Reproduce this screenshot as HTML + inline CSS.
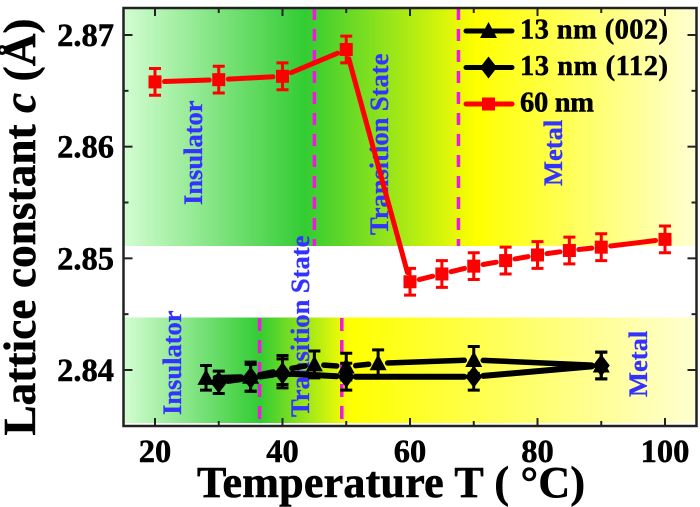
<!DOCTYPE html>
<html lang="en">
<head>
<meta charset="utf-8">
<title>Lattice constant vs temperature</title>
<style>
html,body{margin:0;padding:0;background:#fff;width:700px;height:507px;overflow:hidden}
svg{display:block;filter:blur(0.35px)}
text{font-family:"Liberation Serif",serif;font-weight:bold}
</style>
</head>
<body>
<svg id="chart" xmlns="http://www.w3.org/2000/svg" width="700" height="507" viewBox="0 0 700 507">
  <defs>
    <linearGradient id="gradTop" gradientUnits="userSpaceOnUse" x1="124" y1="0" x2="695" y2="0">
      <stop offset="0" stop-color="#d2fdd2"/>
      <stop offset="0.317" stop-color="#33cc33"/>
      <stop offset="0.618" stop-color="#ffff00"/>
      <stop offset="1" stop-color="#ffffd0"/>
    </linearGradient>
    <linearGradient id="gradBottom" gradientUnits="userSpaceOnUse" x1="124" y1="0" x2="695" y2="0">
      <stop offset="0" stop-color="#d2fdd2"/>
      <stop offset="0.238" stop-color="#33cc33"/>
      <stop offset="0.396" stop-color="#ffff00"/>
      <stop offset="1" stop-color="#ffffd0"/>
    </linearGradient>
  </defs>
  <rect x="124" y="9" width="571" height="237" fill="url(#gradTop)"/>
  <rect x="124" y="317.5" width="571" height="105.5" fill="url(#gradBottom)"/>
  <g id="boundaries"></g>
  <g fill="#3333ff" stroke="#3333ff" stroke-width="0.3" font-size="26.5">
    <text transform="translate(202,205) rotate(-90)">Insulator</text>
    <text transform="translate(388,235) rotate(-90)">Transition State</text>
    <text transform="translate(562,186) rotate(-90)">Metal</text>
    <text transform="translate(181,415) rotate(-90)">Insulator</text>
    <text transform="translate(309,417) rotate(-90)">Transition State</text>
    <text transform="translate(647,397) rotate(-90)">Metal</text>
  </g>
  <g id="series"></g>
  <rect x="123.5" y="8" width="573" height="418" fill="none" stroke="#222" stroke-width="2.5"/>
  <g id="axes"></g>
  <text x="391" y="497" font-size="44" text-anchor="middle" textLength="388" stroke="#000" stroke-width="0.6">Temperature T ( °C)</text>
  <text transform="translate(35,227) rotate(-90)" font-size="45" text-anchor="middle" textLength="417" stroke="#000" stroke-width="0.6">Lattice constant <tspan font-style="italic">c</tspan> (Å)</text>
  <g id="legend"></g>
</svg>
<script>
const temps60 = [20, 30, 40, 50, 60, 65, 70, 75, 80, 85, 90, 100];
const values60 = [2.8658, 2.8660, 2.8663, 2.8687, 2.8479, 2.8486, 2.8493, 2.8498, 2.8503, 2.8507, 2.8510, 2.8517];
const errors60 = [0.0012, 0.0012, 0.0012, 0.0012, 0.0012, 0.0012, 0.0012, 0.0012, 0.0012, 0.0012, 0.0012, 0.0012];
const temps002 = [28, 35, 40, 45, 50, 55, 70, 90];
const values002 = [2.8393, 2.8394, 2.8400, 2.8405, 2.8403, 2.8406, 2.8409, 2.8404];
const errors002 = [0.0011, 0.0013, 0.0013, 0.0012, 0.0012, 0.0012, 0.0012, 0.0012];
const temps112 = [30, 35, 40, 50, 70, 90];
const values112 = [2.8389, 2.8393, 2.8397, 2.8394, 2.8394, 2.8404];
const errors112 = [0.0010, 0.0012, 0.0013, 0.0012, 0.0012, 0.0012];
const xMajorTicks = [20, 40, 60, 80, 100];
const xMinorTicks = [30, 50, 70, 90];
const yMajorTicks = [2.84, 2.85, 2.86, 2.87];
const yMinorTicks = [2.835, 2.845, 2.855, 2.865];
const upperBoundaries = [45, 67.6];
const lowerBoundaries = [36.4, 49.3];
const legendLabels = ['13 nm (002)', '13 nm (112)', '60 nm'];

const NS = 'http://www.w3.org/2000/svg';
function xScale(t) { return 155 + (t - 20) * 6.375; }
function yScale(v) { return 370 - (v - 2.84) * 11167; }
function make(tag, attrs, parent) {
  const el = document.createElementNS(NS, tag);
  for (const k in attrs) el.setAttribute(k, attrs[k]);
  parent.appendChild(el);
  return el;
}

/* phase boundaries */
const boundaries = document.getElementById('boundaries');
upperBoundaries.forEach(function (t) {
  const el = make('line', { x1: xScale(t), x2: xScale(t), y1: 8, y2: 246, stroke: '#f018e0', 'stroke-width': 3.5, 'stroke-dasharray': '12 9' }, boundaries);
  
  
});
lowerBoundaries.forEach(function (t) {
  const el = make('line', { x1: xScale(t), x2: xScale(t), y1: 318, y2: 423, stroke: '#f018e0', 'stroke-width': 3.5, 'stroke-dasharray': '13 9' }, boundaries);
  
  
});

/* markers */
function marker(kind, cx, cy, color, parent) {
  let el;
  if (kind === 'square') {
    el = make('rect', { x: cx - 6.5, y: cy - 6.5, width: 13, height: 13, fill: color }, parent);
  } else if (kind === 'triangle') {
    el = make('polygon', { points: (cx - 8.5) + ',' + (cy + 7) + ' ' + (cx + 8.5) + ',' + (cy + 7) + ' ' + cx + ',' + (cy - 9), fill: color }, parent);
  } else {
    el = make('polygon', { points: (cx - 8.5) + ',' + cy + ' ' + cx + ',' + (cy - 11) + ' ' + (cx + 8.5) + ',' + cy + ' ' + cx + ',' + (cy + 11), fill: color }, parent);
  }
  return el;
}

/* series */
function drawSeries(name, temps, values, errors, kind, color, lineWidth) {
  const host = document.getElementById('series');
  const g = make('g', {}, host);
  
  
  const gap = 9.5;
  for (let i = 0; i < temps.length - 1; i++) {
    const x1 = xScale(temps[i]), y1 = yScale(values[i]);
    const x2 = xScale(temps[i + 1]), y2 = yScale(values[i + 1]);
    const len = Math.hypot(x2 - x1, y2 - y1);
    if (len <= gap * 2) continue;
    const ux = (x2 - x1) / len, uy = (y2 - y1) / len;
    const seg = make('line', { x1: x1 + ux * gap, y1: y1 + uy * gap, x2: x2 - ux * gap, y2: y2 - uy * gap, stroke: color, 'stroke-width': lineWidth, 'stroke-linecap': 'round' }, g);
    
    
  }
  temps.forEach(function (t, i) {
    const cx = xScale(t), cy = yScale(values[i]);
    const top = yScale(values[i] + errors[i]), bot = yScale(values[i] - errors[i]);
    const bar = make('path', { d: 'M' + cx + ' ' + top + 'V' + bot + 'M' + (cx - 6) + ' ' + top + 'H' + (cx + 6) + 'M' + (cx - 6) + ' ' + bot + 'H' + (cx + 6), stroke: color, 'stroke-width': 3, fill: 'none' }, g);
    
    
    const m = marker(kind, cx, cy, color, g);
    
    
  });
}
drawSeries('film-13nm-002', temps002, values002, errors002, 'triangle', '#000', 5.5);
drawSeries('film-13nm-112', temps112, values112, errors112, 'diamond', '#000', 6);
drawSeries('film-60nm', temps60, values60, errors60, 'square', '#ff0000', 5);

/* axes */
const axes = document.getElementById('axes');
function xTick(t, len) {
  const x = xScale(t);
  const b = make('line', { x1: x, x2: x, y1: 426, y2: 426 - len, stroke: '#222', 'stroke-width': 2 }, axes);
  
  
  const a = make('line', { x1: x, x2: x, y1: 8, y2: 8 + len, stroke: '#222', 'stroke-width': 2 }, axes);
  
  
}
function yTick(v, len) {
  const y = yScale(v);
  const l = make('line', { x1: 123.5, x2: 123.5 + len, y1: y, y2: y, stroke: '#222', 'stroke-width': 2 }, axes);
  
  
  const r = make('line', { x1: 696.5, x2: 696.5 - len, y1: y, y2: y, stroke: '#222', 'stroke-width': 2 }, axes);
  
  
}
xMajorTicks.forEach(function (t) {
  xTick(t, 8);
  const label = make('text', { x: xScale(t), y: 462, 'font-size': 32.5, 'text-anchor': 'middle', stroke: '#000', 'stroke-width': 0.5 }, axes);
  label.textContent = String(t);
  
  
});
xMinorTicks.forEach(function (t) { xTick(t, 5); });
yMajorTicks.forEach(function (v) {
  yTick(v, 9);
  const label = make('text', { x: 114, y: yScale(v) + 11, 'font-size': 32.5, 'text-anchor': 'end', stroke: '#000', 'stroke-width': 0.5 }, axes);
  label.textContent = v.toFixed(2);
  
  
});
yMinorTicks.forEach(function (v) {
  if (yScale(v) < 424) yTick(v, 5);
});

/* legend */
const legend = document.getElementById('legend');
const legendKinds = ['triangle', 'diamond', 'square'];
const legendColors = ['#000', '#000', '#ff0000'];
legendLabels.forEach(function (text, i) {
  const y = 31 + i * 36.5;
  const ln = make('line', { x1: 466, x2: 512, y1: y, y2: y, stroke: legendColors[i], 'stroke-width': 5, 'stroke-linecap': 'round' }, legend);
  
  
  const m = marker(legendKinds[i], 488.5, y, legendColors[i], legend);
  
  
  const attrs = { x: 520, y: y + 7.5, 'font-size': 28.5, stroke: '#000', 'stroke-width': 0.5 };
  attrs.textLength = i === 2 ? 74 : 148;
  const label = make('text', attrs, legend);
  label.textContent = text;
  
  
});
</script>
</body>
</html>
